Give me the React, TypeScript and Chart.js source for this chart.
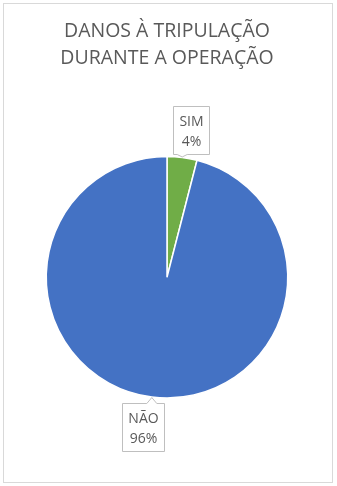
import React, { useEffect, useRef } from 'react';
import { Chart, registerables } from 'chart.js';

Chart.register(...registerables);

const titleLines = ['DANOS À TRIPULAÇÃO', 'DURANTE A OPERAÇÃO'];
const categories = ['SIM', 'NÃO'];
const values = [4, 96];
const percentLabels = ['4%', '96%'];
const sliceColors = ['#70AD47', '#4472C4'];

const TEXT_COLOR = '#595959';
const FONT = '"Open Sans", "DejaVu Sans", sans-serif';

const calloutPlugin = {
  id: 'callouts',
  afterDatasetsDraw(chart: any) {
    const ctx = chart.ctx;
    const meta = chart.getDatasetMeta(0);
    meta.data.forEach((arc: any, i: number) => {
      const p = arc.getProps(['x', 'y', 'startAngle', 'endAngle', 'outerRadius'], true);
      const mid = (p.startAngle + p.endAngle) / 2;
      const tipR = p.outerRadius + 0.5;
      const tx = p.x + Math.cos(mid) * tipR;
      const ty = p.y + Math.sin(mid) * tipR;
      ctx.save();
      ctx.font = '14px ' + FONT;
      const lines = [categories[i], percentLabels[i]];
      const tw = Math.max(...lines.map((l) => ctx.measureText(l).width));
      const bw = Math.round(tw + 12);
      const bh = 48;
      const above = Math.sin(mid) < 0;
      const dx = Math.cos(mid) >= 0 ? 9 : -9;
      const cx = tx + dx;
      const left = Math.round(cx - bw / 2) + 0.5;
      const top = above ? Math.round(ty - 3 - bh) + 0.5 : Math.round(ty + 5) + 0.5;
      const nx = Math.min(Math.max(tx, left + 7), left + bw - 7);
      const nw = 5;
      ctx.beginPath();
      if (above) {
        ctx.moveTo(left, top);
        ctx.lineTo(left + bw, top);
        ctx.lineTo(left + bw, top + bh);
        ctx.lineTo(nx + nw, top + bh);
        ctx.lineTo(tx, ty);
        ctx.lineTo(nx - nw, top + bh);
        ctx.lineTo(left, top + bh);
      } else {
        ctx.moveTo(left, top);
        ctx.lineTo(nx - nw, top);
        ctx.lineTo(tx, ty);
        ctx.lineTo(nx + nw, top);
        ctx.lineTo(left + bw, top);
        ctx.lineTo(left + bw, top + bh);
        ctx.lineTo(left, top + bh);
      }
      ctx.closePath();
      ctx.fillStyle = '#ffffff';
      ctx.fill();
      ctx.strokeStyle = '#bfbfbf';
      ctx.lineWidth = 1;
      ctx.stroke();
      ctx.fillStyle = TEXT_COLOR;
      ctx.textAlign = 'center';
      ctx.textBaseline = 'alphabetic';
      const ccx = left + bw / 2;
      const ccy = top + bh / 2;
      ctx.fillText(lines[0], ccx, ccy - 5);
      ctx.fillText(lines[1], ccx, ccy + 15);
      ctx.restore();
    });
  },
};

export default function App() {
  const canvasRef = useRef<HTMLCanvasElement | null>(null);

  useEffect(() => {
    if (!canvasRef.current) return;
    const chart = new Chart(canvasRef.current, {
      type: 'pie',
      data: {
        labels: categories,
        datasets: [
          {
            data: values,
            backgroundColor: sliceColors,
            borderColor: '#ffffff',
            borderWidth: 1.5,
          },
        ],
      },
      options: {
        responsive: false,
        animation: false,
        layout: { padding: { left: 45.5, right: 48.5, top: 0, bottom: 87 } },
        plugins: {
          legend: { display: false },
          tooltip: { enabled: false },
          title: {
            display: true,
            text: titleLines,
            color: TEXT_COLOR,
            font: { family: FONT, size: 19.5, weight: 'normal', lineHeight: 1.385 },
            padding: { top: 17.5, bottom: 84 },
          },
        },
      },
      plugins: [calloutPlugin],
    } as any);
    return () => chart.destroy();
  }, []);

  return (
    <div style={{ position: 'fixed', left: 0, top: 0, width: 337, height: 486, background: '#fff' }}>
      <canvas ref={canvasRef} width={337} height={486} style={{ display: 'block', width: 337, height: 486 }} />
      <div
        style={{
          position: 'absolute',
          left: 3,
          top: 3,
          width: 330,
          height: 480,
          border: '1px solid #d9d9d9',
          boxSizing: 'border-box',
          pointerEvents: 'none',
        }}
      />
    </div>
  );
}
